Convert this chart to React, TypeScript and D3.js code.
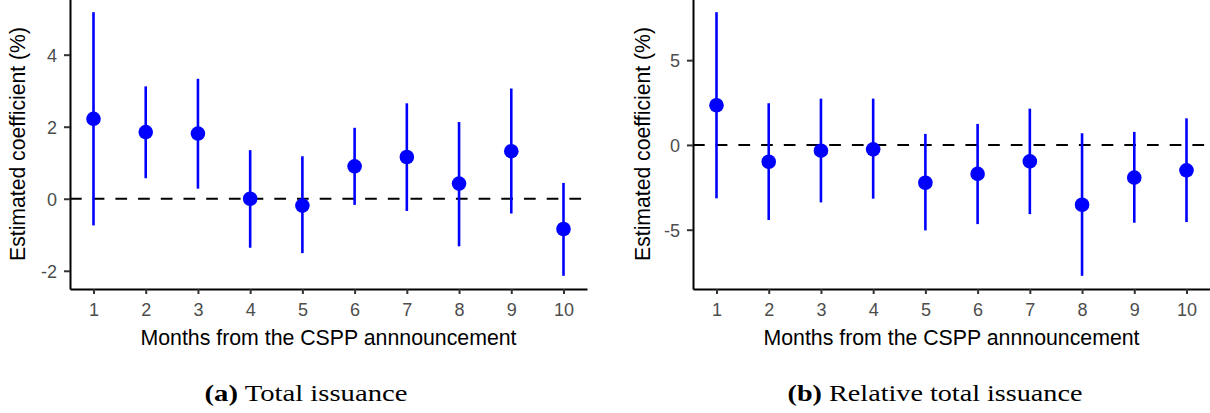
import React, { useEffect, useRef } from "react";
import * as d3 from "d3";

const W = 1210;
const H = 413;

const months = [1, 2, 3, 4, 5, 6, 7, 8, 9, 10];

// (a) total issuance
const totalEst = [2.22, 1.85, 1.81, 0.0, -0.19, 0.9, 1.16, 0.42, 1.32, -0.84];
const totalLow = [-0.74, 0.57, 0.28, -1.36, -1.51, -0.17, -0.34, -1.32, -0.41, -2.14];
const totalHigh = [5.18, 3.12, 3.33, 1.35, 1.18, 1.97, 2.65, 2.13, 3.06, 0.44];
const totalTicks = [-2, 0, 2, 4];

// (b) relative total issuance
const relEst = [2.34, -0.99, -0.34, -0.26, -2.23, -1.71, -0.97, -3.53, -1.93, -1.5];
const relLow = [-3.15, -4.43, -3.39, -3.17, -5.04, -4.67, -4.08, -7.72, -4.59, -4.55];
const relHigh = [7.83, 2.46, 2.73, 2.73, 0.65, 1.24, 2.14, 0.69, 0.77, 1.57];
const relTicks = [-5, 0, 5];

const yTitle = "Estimated coefficient (%)";
const xTitle = "Months from the CSPP annnouncement";

const panels = [
  { left: 70, right: 587, est: totalEst, low: totalLow, high: totalHigh, ticks: totalTicks, titleX: 25, tag: "(a)", caption: " Total issuance", capX: 306, capW: 203 },
  { left: 693, right: 1210, est: relEst, low: relLow, high: relHigh, ticks: relTicks, titleX: 650, tag: "(b)", caption: " Relative total issuance", capX: 935, capW: 295 },
];

const top = -1;
const bottom = 289;
const sans = "'Liberation Sans', Arial, sans-serif";

// ggplot-like 5% expansion
const expand = (lo: number, hi: number): [number, number] => {
  const pad = (hi - lo) * 0.05;
  return [lo - pad, hi + pad];
};

const App = () => {
  const ref = useRef<SVGSVGElement>(null);

  useEffect(() => {
    const svg = d3.select(ref.current);
    svg.selectAll("*").remove();

    panels.forEach((p) => {
      const x = d3
        .scaleLinear()
        .domain(expand(d3.min(months)!, d3.max(months)!))
        .range([p.left, p.right]);
      const y = d3
        .scaleLinear()
        .domain(expand(d3.min(p.low)!, d3.max(p.high)!))
        .range([bottom, top]);

      const g = svg.append("g");

      // zero reference line
      g.append("line")
        .attr("x1", p.left)
        .attr("x2", p.right)
        .attr("y1", y(0))
        .attr("y2", y(0))
        .attr("stroke", "#000")
        .attr("stroke-width", 2)
        .attr("stroke-dasharray", "11.7,11");

      // error bars
      g.selectAll(".bar")
        .data(months)
        .join("line")
        .attr("x1", (d) => x(d))
        .attr("x2", (d) => x(d))
        .attr("y1", (_, i) => y(p.low[i]))
        .attr("y2", (_, i) => y(p.high[i]))
        .attr("stroke", "#0000ff")
        .attr("stroke-width", 2.6);

      g.selectAll(".pt")
        .data(months)
        .join("circle")
        .attr("cx", (d) => x(d))
        .attr("cy", (_, i) => y(p.est[i]))
        .attr("r", 7.3)
        .attr("fill", "#0000ff");

      // axes
      const xAxis = g
        .append("g")
        .attr("transform", `translate(0,${bottom})`)
        .call(d3.axisBottom(x).tickValues(months).tickSize(5).tickPadding(9).tickSizeOuter(0));
      const yAxis = g
        .append("g")
        .attr("transform", `translate(${p.left},0)`)
        .call(
          d3
            .axisLeft(y)
            .tickValues(p.ticks)
            .tickFormat((d) => String(d))
            .tickSize(6)
            .tickPadding(7)
            .tickSizeOuter(0)
        );

      [xAxis, yAxis].forEach((ax) => {
        ax.select(".domain").attr("stroke", "#000").attr("stroke-width", 2);
        ax.selectAll(".tick line").attr("stroke", "#333").attr("stroke-width", 2);
        ax.selectAll(".tick text")
          .attr("fill", "#4d4d4d")
          .attr("font-family", sans)
          .attr("font-size", 18);
      });
      yAxis.selectAll(".tick text").attr("dy", "0.36em");

      // titles
      g.append("text")
        .attr("x", (p.left + p.right) / 2)
        .attr("y", 345)
        .attr("text-anchor", "middle")
        .attr("font-family", sans)
        .attr("font-size", 21.3)
        .text(xTitle);

      g.append("text")
        .attr("transform", `translate(${p.titleX},${(top + bottom) / 2}) rotate(-90)`)
        .attr("text-anchor", "middle")
        .attr("font-family", sans)
        .attr("font-size", 21.2)
        .text(yTitle);

      // caption, stretched to the width of the original's Palatino setting
      const cap = g
        .append("text")
        .attr("text-anchor", "middle")
        .attr("font-family", "'Liberation Serif', 'DejaVu Serif', serif")
        .attr("font-size", 22.5);
      cap.append("tspan").attr("font-weight", "bold").text(p.tag);
      cap.append("tspan").text(p.caption);
      const natural = (cap.node() as SVGTextElement).getComputedTextLength() || p.capW;
      cap.attr("transform", `translate(${p.capX},401) scale(${p.capW / natural},1)`);
    });
  }, []);

  return (
    <svg
      ref={ref}
      width={W}
      height={H}
      style={{ position: "absolute", left: 0, top: 0, background: "#fff" }}
    />
  );
};

export default App;
